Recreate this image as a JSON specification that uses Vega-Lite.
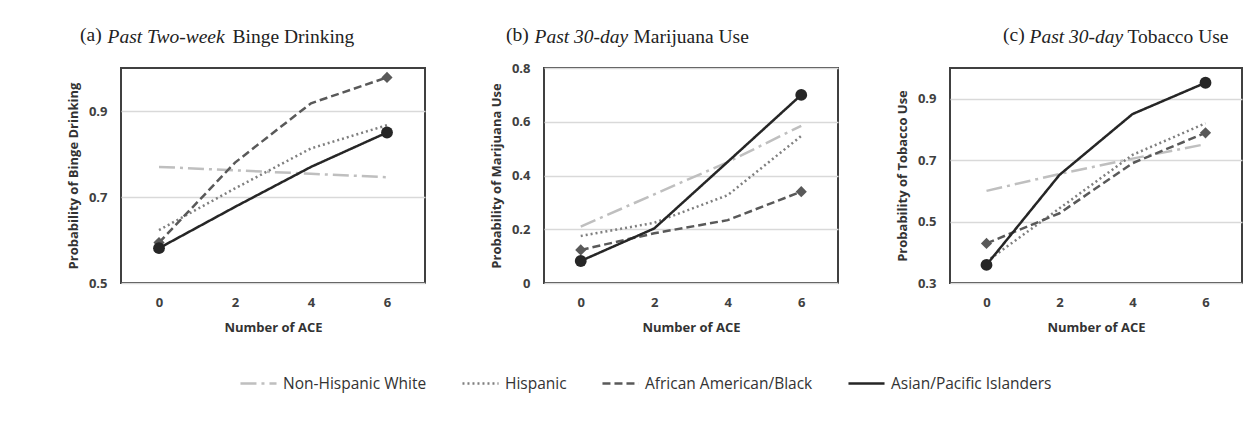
{
  "$schema": "https://vega.github.io/schema/vega-lite/v6.json",
  "background": "white",
  "padding": {"left": 66, "top": 23, "right": 5, "bottom": 5},
  "data": {"values": [
    {"panel": "a", "ace": 0, "group": "Non-Hispanic White", "p": 0.770},
    {"panel": "a", "ace": 2, "group": "Non-Hispanic White", "p": 0.762},
    {"panel": "a", "ace": 4, "group": "Non-Hispanic White", "p": 0.754},
    {"panel": "a", "ace": 6, "group": "Non-Hispanic White", "p": 0.746},
    {"panel": "a", "ace": 0, "group": "Hispanic", "p": 0.623},
    {"panel": "a", "ace": 2, "group": "Hispanic", "p": 0.720},
    {"panel": "a", "ace": 4, "group": "Hispanic", "p": 0.813},
    {"panel": "a", "ace": 6, "group": "Hispanic", "p": 0.867},
    {"panel": "a", "ace": 0, "group": "African American/Black", "p": 0.594},
    {"panel": "a", "ace": 2, "group": "African American/Black", "p": 0.780},
    {"panel": "a", "ace": 4, "group": "African American/Black", "p": 0.918},
    {"panel": "a", "ace": 6, "group": "African American/Black", "p": 0.978},
    {"panel": "a", "ace": 0, "group": "Asian/Pacific Islanders", "p": 0.581},
    {"panel": "a", "ace": 2, "group": "Asian/Pacific Islanders", "p": 0.677},
    {"panel": "a", "ace": 4, "group": "Asian/Pacific Islanders", "p": 0.770},
    {"panel": "a", "ace": 6, "group": "Asian/Pacific Islanders", "p": 0.850},
    {"panel": "b", "ace": 0, "group": "Non-Hispanic White", "p": 0.210},
    {"panel": "b", "ace": 2, "group": "Non-Hispanic White", "p": 0.330},
    {"panel": "b", "ace": 4, "group": "Non-Hispanic White", "p": 0.450},
    {"panel": "b", "ace": 6, "group": "Non-Hispanic White", "p": 0.585},
    {"panel": "b", "ace": 0, "group": "Hispanic", "p": 0.175},
    {"panel": "b", "ace": 2, "group": "Hispanic", "p": 0.224},
    {"panel": "b", "ace": 4, "group": "Hispanic", "p": 0.327},
    {"panel": "b", "ace": 6, "group": "Hispanic", "p": 0.547},
    {"panel": "b", "ace": 0, "group": "African American/Black", "p": 0.123},
    {"panel": "b", "ace": 2, "group": "African American/Black", "p": 0.185},
    {"panel": "b", "ace": 4, "group": "African American/Black", "p": 0.234},
    {"panel": "b", "ace": 6, "group": "African American/Black", "p": 0.340},
    {"panel": "b", "ace": 0, "group": "Asian/Pacific Islanders", "p": 0.082},
    {"panel": "b", "ace": 2, "group": "Asian/Pacific Islanders", "p": 0.203},
    {"panel": "b", "ace": 4, "group": "Asian/Pacific Islanders", "p": 0.451},
    {"panel": "b", "ace": 6, "group": "Asian/Pacific Islanders", "p": 0.700},
    {"panel": "c", "ace": 0, "group": "Non-Hispanic White", "p": 0.600},
    {"panel": "c", "ace": 2, "group": "Non-Hispanic White", "p": 0.655},
    {"panel": "c", "ace": 4, "group": "Non-Hispanic White", "p": 0.705},
    {"panel": "c", "ace": 6, "group": "Non-Hispanic White", "p": 0.752},
    {"panel": "c", "ace": 0, "group": "Hispanic", "p": 0.370},
    {"panel": "c", "ace": 2, "group": "Hispanic", "p": 0.543},
    {"panel": "c", "ace": 4, "group": "Hispanic", "p": 0.717},
    {"panel": "c", "ace": 6, "group": "Hispanic", "p": 0.820},
    {"panel": "c", "ace": 0, "group": "African American/Black", "p": 0.429},
    {"panel": "c", "ace": 2, "group": "African American/Black", "p": 0.527},
    {"panel": "c", "ace": 4, "group": "African American/Black", "p": 0.690},
    {"panel": "c", "ace": 6, "group": "African American/Black", "p": 0.789},
    {"panel": "c", "ace": 0, "group": "Asian/Pacific Islanders", "p": 0.359},
    {"panel": "c", "ace": 2, "group": "Asian/Pacific Islanders", "p": 0.652},
    {"panel": "c", "ace": 4, "group": "Asian/Pacific Islanders", "p": 0.850},
    {"panel": "c", "ace": 6, "group": "Asian/Pacific Islanders", "p": 0.952}
  ]},
  "bounds": "flush",
  "spacing": 119,
  "hconcat": [
    {
      "width": 304, "height": 215,
      "title": {"text": "(a)", "anchor": "start", "frame": "group", "dx": -41, "dy": 23},
      "transform": [{"filter": "datum.panel == 'a'"}],
      "resolve": {"axis": {"x": "independent", "y": "independent"}},
      "layer": [
        {
          "mark": {"type": "line", "strokeWidth": 2.5},
          "encoding": {
            "x": {"field": "ace", "type": "ordinal", "scale": {"type": "point", "padding": 0.5, "domain": [0, 2, 4, 6]}, "axis": {"title": "Number of ACE"}},
            "y": {"field": "p", "type": "quantitative", "scale": {"domain": [0.5, 1.0], "nice": false, "zero": false}, "axis": {"values": [0.5, 0.7, 0.9], "title": "Probability of  Binge Drinking"}},
            "color": {"field": "group", "type": "nominal", "scale": {"domain": ["Non-Hispanic White", "Hispanic", "African American/Black", "Asian/Pacific Islanders"], "range": ["#bfbfbf", "#7f7f7f", "#595959", "#262626"]}, "legend": {"title": null, "orient": "none", "direction": "horizontal", "legendX": 118, "legendY": 296}},
            "strokeDash": {"field": "group", "type": "nominal", "scale": {"domain": ["Non-Hispanic White", "Hispanic", "African American/Black", "Asian/Pacific Islanders"], "range": [[16, 5, 3, 5], [2, 3], [8, 4], [1, 0]]}, "legend": {"title": null, "orient": "none", "direction": "horizontal", "legendX": 118, "legendY": 296}}
          }
        },
        {
          "mark": {"type": "point", "filled": true, "opacity": 1, "strokeWidth": 0},
          "transform": [{"filter": "(datum.ace == 0 || datum.ace == 6) && (datum.group == 'African American/Black' || datum.group == 'Asian/Pacific Islanders')"}],
          "encoding": {
            "x": {"field": "ace", "type": "ordinal", "axis": {"orient": "top", "title": "Past Two-week", "titleX": -14, "titleY": -26, "labels": false, "ticks": false, "domain": false, "grid": false, "titleFontStyle": "italic", "titleFont": "Liberation Serif", "titleFontWeight": "normal", "titleFontSize": 19.5, "titleColor": "#222222", "titleAlign": "left", "titleBaseline": "alphabetic"}},
            "y": {"field": "p", "type": "quantitative", "axis": {"orient": "right", "title": "Binge Drinking", "titleAngle": 0, "titleX": -193, "titleY": -26, "labels": false, "ticks": false, "domain": false, "grid": false, "titleFont": "Liberation Serif", "titleFontWeight": "normal", "titleFontSize": 19.5, "titleColor": "#222222", "titleAlign": "left", "titleBaseline": "alphabetic"}},
            "fill": {"field": "group", "type": "nominal", "scale": {"domain": ["African American/Black", "Asian/Pacific Islanders"], "range": ["#595959", "#262626"]}, "legend": null},
            "shape": {"field": "group", "type": "nominal", "scale": {"domain": ["African American/Black", "Asian/Pacific Islanders"], "range": ["diamond", "circle"]}, "legend": null},
            "size": {"field": "group", "type": "ordinal", "scale": {"domain": ["African American/Black", "Asian/Pacific Islanders"], "range": [125, 140]}, "legend": null}
          }
        }
      ]
    },
    {
      "bounds": "flush",
      "spacing": 112,
      "hconcat": [
        {
          "width": 294, "height": 215,
          "title": {"text": "(b)", "anchor": "start", "frame": "group", "dx": -38, "dy": 23},
          "transform": [{"filter": "datum.panel == 'b'"}],
          "resolve": {"axis": {"x": "independent", "y": "independent"}},
          "layer": [
            {
              "mark": {"type": "line", "strokeWidth": 2.5},
              "encoding": {
                "x": {"field": "ace", "type": "ordinal", "scale": {"type": "point", "padding": 0.5, "domain": [0, 2, 4, 6]}, "axis": {"title": "Number of ACE"}},
                "y": {"field": "p", "type": "quantitative", "scale": {"domain": [0, 0.8], "nice": false, "zero": false}, "axis": {"values": [0, 0.2, 0.4, 0.6, 0.8], "title": "Probability of Marijuana Use"}},
                "color": {"field": "group", "type": "nominal", "scale": {"domain": ["Non-Hispanic White", "Hispanic", "African American/Black", "Asian/Pacific Islanders"], "range": ["#bfbfbf", "#7f7f7f", "#595959", "#262626"]}, "legend": {"title": null, "orient": "none", "direction": "horizontal", "legendX": 118, "legendY": 296}},
                "strokeDash": {"field": "group", "type": "nominal", "scale": {"domain": ["Non-Hispanic White", "Hispanic", "African American/Black", "Asian/Pacific Islanders"], "range": [[16, 5, 3, 5], [2, 3], [8, 4], [1, 0]]}, "legend": {"title": null, "orient": "none", "direction": "horizontal", "legendX": 118, "legendY": 296}}
              }
            },
            {
              "mark": {"type": "point", "filled": true, "opacity": 1, "strokeWidth": 0},
              "transform": [{"filter": "(datum.ace == 0 || datum.ace == 6) && (datum.group == 'African American/Black' || datum.group == 'Asian/Pacific Islanders')"}],
              "encoding": {
                "x": {"field": "ace", "type": "ordinal", "axis": {"orient": "top", "title": "Past 30-day", "titleX": -10, "titleY": -26, "labels": false, "ticks": false, "domain": false, "grid": false, "titleFontStyle": "italic", "titleFont": "Liberation Serif", "titleFontWeight": "normal", "titleFontSize": 19.5, "titleColor": "#222222", "titleAlign": "left", "titleBaseline": "alphabetic"}},
                "y": {"field": "p", "type": "quantitative", "axis": {"orient": "right", "title": "Marijuana Use", "titleAngle": 0, "titleX": -205, "titleY": -26, "labels": false, "ticks": false, "domain": false, "grid": false, "titleFont": "Liberation Serif", "titleFontWeight": "normal", "titleFontSize": 19.5, "titleColor": "#222222", "titleAlign": "left", "titleBaseline": "alphabetic"}},
                "fill": {"field": "group", "type": "nominal", "scale": {"domain": ["African American/Black", "Asian/Pacific Islanders"], "range": ["#595959", "#262626"]}, "legend": null},
                "shape": {"field": "group", "type": "nominal", "scale": {"domain": ["African American/Black", "Asian/Pacific Islanders"], "range": ["diamond", "circle"]}, "legend": null},
                "size": {"field": "group", "type": "ordinal", "scale": {"domain": ["African American/Black", "Asian/Pacific Islanders"], "range": [125, 140]}, "legend": null}
              }
            }
          ]
        },
        {
          "width": 292, "height": 215,
          "title": {"text": "(c)", "anchor": "start", "frame": "group", "dx": 53, "dy": 23},
          "transform": [{"filter": "datum.panel == 'c'"}],
          "resolve": {"axis": {"x": "independent", "y": "independent"}},
          "layer": [
            {
              "mark": {"type": "line", "strokeWidth": 2.5},
              "encoding": {
                "x": {"field": "ace", "type": "ordinal", "scale": {"type": "point", "padding": 0.5, "domain": [0, 2, 4, 6]}, "axis": {"title": "Number of ACE"}},
                "y": {"field": "p", "type": "quantitative", "scale": {"domain": [0.3, 1.0], "nice": false, "zero": false}, "axis": {"values": [0.3, 0.5, 0.7, 0.9], "title": "Probability of Tobacco Use"}},
                "color": {"field": "group", "type": "nominal", "scale": {"domain": ["Non-Hispanic White", "Hispanic", "African American/Black", "Asian/Pacific Islanders"], "range": ["#bfbfbf", "#7f7f7f", "#595959", "#262626"]}, "legend": {"title": null, "orient": "none", "direction": "horizontal", "legendX": 118, "legendY": 296}},
                "strokeDash": {"field": "group", "type": "nominal", "scale": {"domain": ["Non-Hispanic White", "Hispanic", "African American/Black", "Asian/Pacific Islanders"], "range": [[16, 5, 3, 5], [2, 3], [8, 4], [1, 0]]}, "legend": {"title": null, "orient": "none", "direction": "horizontal", "legendX": 118, "legendY": 296}}
              }
            },
            {
              "mark": {"type": "point", "filled": true, "opacity": 1, "strokeWidth": 0},
              "transform": [{"filter": "(datum.ace == 0 || datum.ace == 6) && (datum.group == 'African American/Black' || datum.group == 'Asian/Pacific Islanders')"}],
              "encoding": {
                "x": {"field": "ace", "type": "ordinal", "axis": {"orient": "top", "title": "Past 30-day", "titleX": 79, "titleY": -26, "labels": false, "ticks": false, "domain": false, "grid": false, "titleFontStyle": "italic", "titleFont": "Liberation Serif", "titleFontWeight": "normal", "titleFontSize": 19.5, "titleColor": "#222222", "titleAlign": "left", "titleBaseline": "alphabetic"}},
                "y": {"field": "p", "type": "quantitative", "axis": {"orient": "right", "title": "Tobacco Use", "titleAngle": 0, "titleX": -115, "titleY": -26, "labels": false, "ticks": false, "domain": false, "grid": false, "titleFont": "Liberation Serif", "titleFontWeight": "normal", "titleFontSize": 19.5, "titleColor": "#222222", "titleAlign": "left", "titleBaseline": "alphabetic"}},
                "fill": {"field": "group", "type": "nominal", "scale": {"domain": ["African American/Black", "Asian/Pacific Islanders"], "range": ["#595959", "#262626"]}, "legend": null},
                "shape": {"field": "group", "type": "nominal", "scale": {"domain": ["African American/Black", "Asian/Pacific Islanders"], "range": ["diamond", "circle"]}, "legend": null},
                "size": {"field": "group", "type": "ordinal", "scale": {"domain": ["African American/Black", "Asian/Pacific Islanders"], "range": [125, 140]}, "legend": null}
              }
            }
          ]
        }
      ]
    }
  ],
  "config": {
    "view": {"stroke": "#404040", "strokeWidth": 2},
    "axis": {
      "labelFont": "Open Sans", "labelFontWeight": "bold", "labelFontSize": 13, "labelColor": "#404040",
      "titleFont": "Open Sans", "titleFontWeight": "bold", "titleColor": "#333333",
      "ticks": false, "domain": false, "gridColor": "#d9d9d9", "gridWidth": 1.5
    },
    "axisX": {"labelAngle": 0, "labelPadding": 13, "titlePadding": 12, "titleFontSize": 13, "grid": false},
    "axisY": {"labelPadding": 14, "titlePadding": 8, "titleFontSize": 13, "format": ".1~f"},
    "title": {"font": "Liberation Serif", "fontSize": 19.5, "fontWeight": "normal", "color": "#222222", "baseline": "alphabetic"},
    "legend": {
      "symbolType": "stroke", "symbolSize": 1300, "symbolStrokeWidth": 2.5,
      "labelFont": "Open Sans", "labelFontSize": 15.5, "labelColor": "#333333", "labelOffset": 5,
      "columnPadding": 30, "labelLimit": 300
    }
  }
}
